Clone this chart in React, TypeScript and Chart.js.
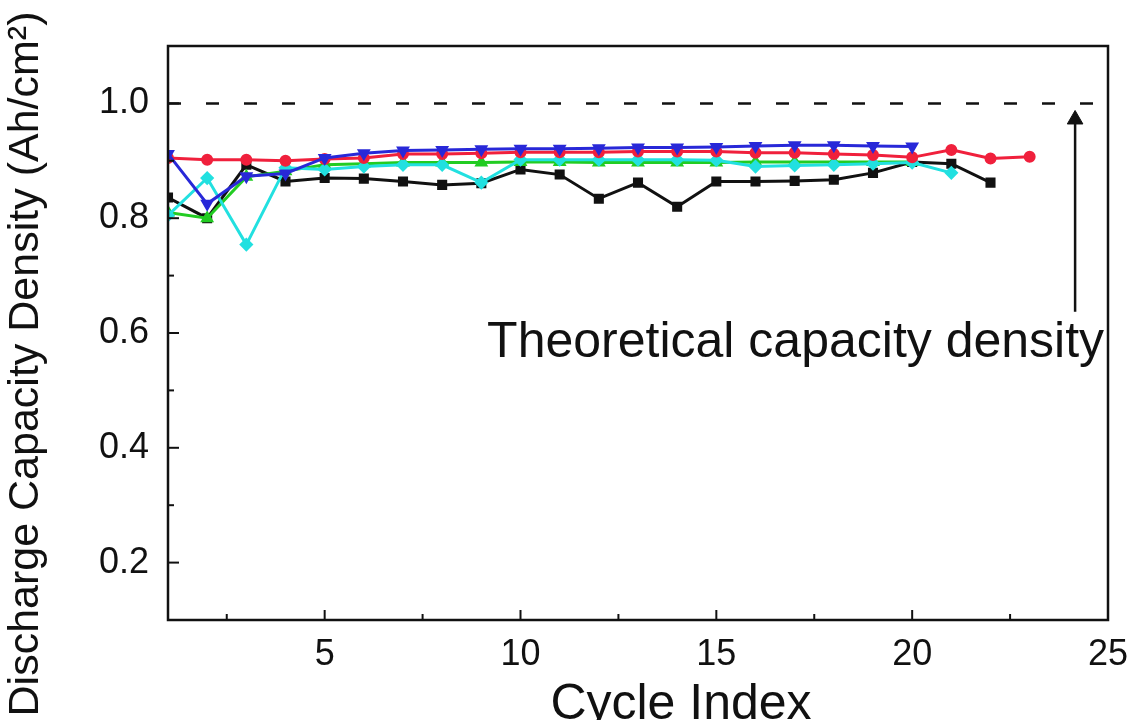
import React, { useEffect, useRef } from "react";
import { Chart, registerables } from "chart.js";

Chart.register(...registerables);

const cycles = Array.from({ length: 23 }, (_, i) => i + 1);

const redValues = [0.905, 0.902, 0.902, 0.9, 0.903, 0.905, 0.912, 0.912, 0.913, 0.915, 0.915, 0.915, 0.916, 0.916, 0.916, 0.914, 0.914, 0.912, 0.91, 0.906, 0.919, 0.904, 0.907];
const blueValues = [0.912, 0.825, 0.873, 0.878, 0.905, 0.913, 0.918, 0.919, 0.92, 0.921, 0.921, 0.922, 0.923, 0.923, 0.924, 0.926, 0.927, 0.927, 0.926, 0.925];
const blackValues = [0.836, 0.8, 0.893, 0.864, 0.87, 0.869, 0.864, 0.858, 0.861, 0.885, 0.876, 0.834, 0.862, 0.82, 0.864, 0.864, 0.865, 0.867, 0.879, 0.898, 0.895, 0.862];
const greenValues = [0.81, 0.8, 0.872, 0.882, 0.893, 0.895, 0.897, 0.897, 0.897, 0.898, 0.898, 0.897, 0.897, 0.897, 0.897, 0.898, 0.898, 0.898, 0.898, 0.898];
const cyanValues = [0.805, 0.87, 0.754, 0.888, 0.885, 0.89, 0.893, 0.893, 0.862, 0.902, 0.902, 0.902, 0.902, 0.902, 0.901, 0.89, 0.892, 0.893, 0.895, 0.897, 0.879];

const theoreticalLine = [
  { x: 1, y: 1.0 },
  { x: 25, y: 1.0 },
];
const arrowPoints = [
  { x: 24.16, y: 0.637 },
  { x: 24.16, y: 0.972 },
];
const annotationText = "Theoretical capacity density";
const annotationPos = { x: 24.9, y: 0.558 };
const xTitle = "Cycle Index";
const yTitle = "Discharge Capacity Density (Ah/cm²)";

const xTickLabels = [5, 10, 15, 20, 25];
const yTickLabels = [0.2, 0.4, 0.6, 0.8, 1.0];
const xTickMarks = [2.5, 5, 7.5, 10, 12.5, 15, 17.5, 20, 22.5];
const yTickMarks = [0.2, 0.3, 0.4, 0.5, 0.6, 0.7, 0.8, 0.9, 1.0];

const FONT = "'Liberation Sans', Arial, sans-serif";

const toPoints = (vals: number[]) => vals.map((v, i) => ({ x: cycles[i], y: v }));

const frameAndTicks = {
  id: "frameAndTicks",
  afterDatasetsDraw(chart: any) {
    const { ctx, chartArea, scales } = chart;
    const xs = scales.x;
    const ys = scales.y;
    ctx.save();
    ctx.strokeStyle = "#111";
    ctx.lineWidth = 2.5;
    ctx.strokeRect(chartArea.left, chartArea.top, chartArea.right - chartArea.left, chartArea.bottom - chartArea.top);
    ctx.lineWidth = 2;
    xTickMarks.forEach((t) => {
      const px = xs.getPixelForValue(t);
      const len = t % 5 === 0 ? 10 : 6;
      ctx.beginPath();
      ctx.moveTo(px, chartArea.bottom);
      ctx.lineTo(px, chartArea.bottom - len);
      ctx.stroke();
    });
    yTickMarks.forEach((t) => {
      const py = ys.getPixelForValue(t);
      const major = Math.round(t * 10) % 2 === 0;
      const len = major ? 11 : 6;
      ctx.beginPath();
      ctx.moveTo(chartArea.left, py);
      ctx.lineTo(chartArea.left + len, py);
      ctx.stroke();
    });
    ctx.fillStyle = "#111";
    ctx.font = `50px ${FONT}`;
    ctx.textAlign = "right";
    ctx.textBaseline = "alphabetic";
    ctx.fillText(annotationText, xs.getPixelForValue(annotationPos.x), ys.getPixelForValue(annotationPos.y));

    // axis titles
    ctx.textAlign = "center";
    ctx.font = `50px ${FONT}`;
    ctx.fillText(xTitle, 681, 719);
    ctx.save();
    ctx.translate(38, 364);
    ctx.rotate(-Math.PI / 2);
    ctx.font = `43px ${FONT}`;
    ctx.fillText(yTitle, 0, 0);
    ctx.restore();
    ctx.restore();
  },
};

export default function App() {
  const ref = useRef<HTMLCanvasElement | null>(null);
  useEffect(() => {
    if (!ref.current) return;
    const chart = new Chart(ref.current, {
      type: "line",
      data: {
        datasets: [
          {
            label: "theoretical",
            data: theoreticalLine,
            borderColor: "#111",
            borderWidth: 2.5,
            borderDash: [13, 25],
            pointRadius: 0,
            order: 10,
          },
          {
            label: "arrow",
            data: arrowPoints,
            borderColor: "#111",
            backgroundColor: "#111",
            borderWidth: 2.5,
            pointStyle: "triangle",
            pointRadius: [0, 9],
            pointBorderWidth: 1,
            order: 10,
          },
          {
            label: "black",
            data: toPoints(blackValues),
            borderColor: "#111",
            backgroundColor: "#111",
            borderWidth: 3,
            pointStyle: "rect",
            pointRadius: 5,
            order: 5,
          },
          {
            label: "green",
            data: toPoints(greenValues),
            borderColor: "#22cc22",
            backgroundColor: "#22cc22",
            borderWidth: 3,
            pointStyle: "triangle",
            pointRadius: 5,
            order: 4,
          },
          {
            label: "cyan",
            data: toPoints(cyanValues),
            borderColor: "#22e0e0",
            backgroundColor: "#22e0e0",
            borderWidth: 3,
            pointStyle: "rectRot",
            pointRadius: 5,
            order: 3,
          },
          {
            label: "red",
            data: toPoints(redValues),
            borderColor: "#f0203c",
            backgroundColor: "#f0203c",
            borderWidth: 3,
            pointStyle: "circle",
            pointRadius: 4.5,
            order: 2,
          },
          {
            label: "blue",
            data: toPoints(blueValues),
            borderColor: "#2828d8",
            backgroundColor: "#2828d8",
            borderWidth: 3,
            pointStyle: "triangle",
            pointRotation: 180,
            pointRadius: 5,
            order: 1,
          },
        ],
      },
      options: {
        animation: false,
        responsive: false,
        maintainAspectRatio: false,
        layout: { padding: { top: 46, right: 29, left: 0, bottom: 0 } },
        plugins: {
          legend: { display: false },
          tooltip: { enabled: false },
        },
        elements: { line: { tension: 0 } },
        scales: {
          x: {
            type: "linear",
            min: 1,
            max: 25,
            grid: { display: false },
            border: { display: false },
            afterFit: (s: any) => {
              s.height = 100;
            },
            afterBuildTicks: (s: any) => {
              s.ticks = xTickLabels.map((v) => ({ value: v }));
            },
            ticks: {
              color: "#111",
              padding: 5,
              font: { family: FONT, size: 36 },
              maxRotation: 0,
              callback: (v: any) => String(v),
            },
          },
          y: {
            type: "linear",
            min: 0.1,
            max: 1.1,
            grid: { display: false },
            border: { display: false },
            afterFit: (s: any) => {
              s.width = 168;
            },
            afterBuildTicks: (s: any) => {
              s.ticks = yTickLabels.map((v) => ({ value: v }));
            },
            ticks: {
              color: "#111",
              padding: 11,
              font: { family: FONT, size: 36 },
              callback: (v: any) => Number(v).toFixed(1),
            },
          },
        },
      },
      plugins: [frameAndTicks],
    });
    return () => chart.destroy();
  }, []);

  return (
    <div style={{ position: "fixed", left: 0, top: 0, width: 1137, height: 720, background: "#fff" }}>
      <canvas ref={ref} width={1137} height={720} style={{ width: 1137, height: 720 }} />
    </div>
  );
}
